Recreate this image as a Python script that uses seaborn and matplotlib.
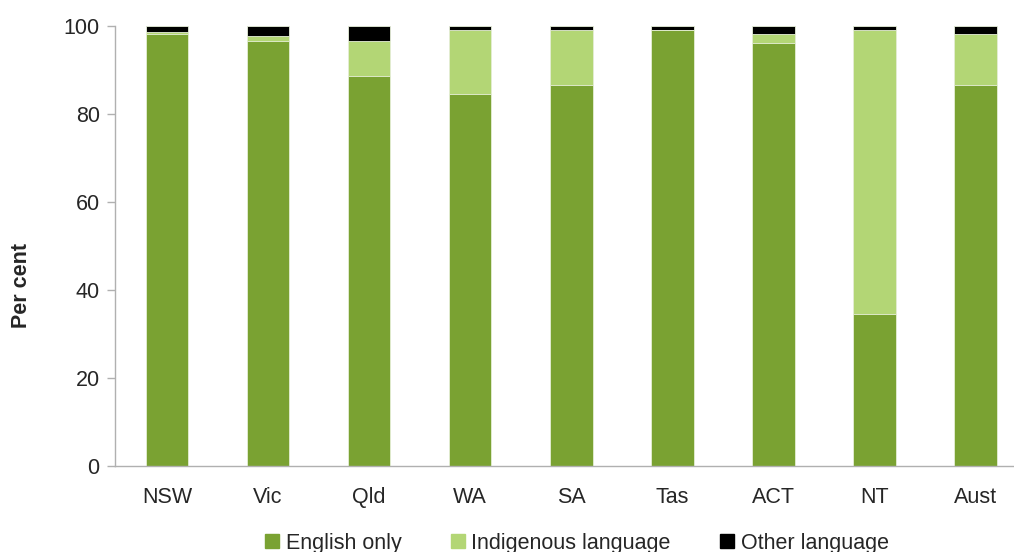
import numpy as np
import pandas as pd
import matplotlib
matplotlib.use("Agg")
import matplotlib.pyplot as plt
from matplotlib.patches import Patch
import seaborn as sns

states = ["NSW", "Vic", "Qld", "WA", "SA", "Tas", "ACT", "NT", "Aust"]
english_only = [98.2, 96.6, 88.6, 84.5, 86.6, 99.0, 96.1, 34.5, 86.6]
indigenous = [0.4, 1.1, 8.0, 14.5, 12.4, 0.0, 2.0, 64.5, 11.6]
other = [1.4, 2.3, 3.4, 1.0, 1.0, 1.0, 1.9, 1.0, 1.8]
yticks = [0, 20, 40, 60, 80, 100]

c_eng = "#7AA232"
c_ind = "#B3D675"
c_oth = "#000000"

sns.set_theme(style="white")
plt.rcParams["font.family"] = ["Liberation Sans", "DejaVu Sans"]

df = pd.DataFrame({"state": states, "eng": english_only, "ind": indigenous, "oth": other})
df["lvl2"] = df["eng"] + df["ind"]
df["lvl3"] = df["lvl2"] + df["oth"]

fig = plt.figure(figsize=(10.14, 5.52), dpi=100)
ax = fig.add_axes([0.1134, 0.1558, 0.8866, 0.7971])

kw = dict(x="state", order=states, width=0.42, ax=ax, edgecolor="#E8F0DA", linewidth=0.6)
sns.barplot(data=df, y="lvl3", color=c_oth, saturation=1, **kw)
sns.barplot(data=df, y="lvl2", color=c_ind, saturation=1, **kw)
sns.barplot(data=df, y="eng", color=c_eng, saturation=1, **kw)

fs = 15.5
ax.set_ylim(0, 100)
ax.set_xlim(-0.515, 8.38)
ax.set_yticks(yticks)
ax.set_yticklabels([str(t) for t in yticks], fontsize=fs)
ax.tick_params(axis="x", labelsize=fs, length=0, pad=15)
ax.tick_params(axis="y", left=True, length=6, color="#B0B0B0", width=1, pad=5)
ax.set_xlabel("")
ax.set_ylabel("Per cent", fontsize=fs, fontweight="bold")
ax.yaxis.set_label_coords(-0.092, 0.41)

for s in ["top", "right"]:
    ax.spines[s].set_visible(False)
for s in ["left", "bottom"]:
    ax.spines[s].set_color("#B0B0B0")
    ax.spines[s].set_linewidth(1)

handles = [Patch(color=c_eng, label="English only"),
           Patch(color=c_ind, label="Indigenous language"),
           Patch(color=c_oth, label="Other language")]
fig.legend(handles=handles, loc="lower center", bbox_to_anchor=(0.569, -0.038), ncol=3,
           frameon=False, fontsize=fs, handlelength=0.65, handleheight=0.65,
           handletextpad=0.3, columnspacing=2.3)

fig.savefig("out.png", dpi=100)
